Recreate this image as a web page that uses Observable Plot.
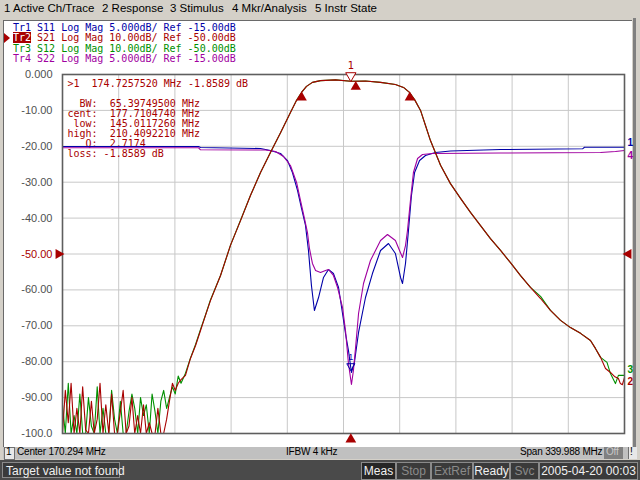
<!DOCTYPE html>
<html><head><meta charset="utf-8">
<script src="https://cdn.jsdelivr.net/npm/d3@7"></script>
<script src="https://cdn.jsdelivr.net/npm/@observablehq/plot@0.6"></script>
<style>
html,body{margin:0;padding:0}
body{width:640px;height:480px;overflow:hidden;position:relative;background:#d4d0c8;font-family:"Liberation Sans",Arial,sans-serif}
.a{position:absolute;white-space:pre}
#panel{position:absolute;left:3px;top:20px;width:628px;height:426px;background:#fff;border-top:1px solid #6a6a6a;border-left:1px solid #6a6a6a}
#rside{position:absolute;left:633px;top:18px;width:3px;height:429px;background:#808080}
#chart{position:absolute;left:0;top:17px}
#chart svg text{white-space:pre}
.menu{top:2px;font-size:11.5px;color:#000}
.leg{left:13px;font-family:"DejaVu Sans Mono",monospace;font-size:10px;line-height:10px}
#st1{position:absolute;left:3px;top:447px;width:629px;height:12px;background:#c0c0c0}
.s1{top:446px;font-size:10px;color:#000;letter-spacing:-0.2px}
#st2{position:absolute;left:0;top:460px;width:640px;height:20px;background:#4a4a4a}
.box{position:absolute;top:462px;height:16px;border:1px solid #8a8a8a;background:#3a3a3a;font-size:12px;line-height:16px;color:#f0f0f0;text-align:center;white-space:pre}
</style></head>
<body>
<div id="panel"></div>
<div id="rside"></div>
<div id="chart"></div>

<div class="a menu" style="left:4px">1 Active Ch/Trace</div>
<div class="a menu" style="left:102px">2 Response</div>
<div class="a menu" style="left:170px">3 Stimulus</div>
<div class="a menu" style="left:232px">4 Mkr/Analysis</div>
<div class="a menu" style="left:315px">5 Instr State</div>

<div id="legend"></div>

<div id="st1"></div>
<div class="a" style="left:4px;top:447px;width:9px;height:11px;border:1px solid #707070;background:#e8e8e8"></div>
<div class="a s1" style="left:6px">1</div>
<div class="a s1" style="left:17px">Center 170.294 MHz</div>
<div class="a s1" style="left:286px">IFBW 4 kHz</div>
<div class="a s1" style="left:520px">Span 339.988 MHz</div>
<div class="a" style="left:604px;top:447px;width:19px;height:12px;background:#808080"></div>
<div class="a s1" style="left:606px;color:#c8c8c8">Off</div>
<div class="a" style="left:628px;top:447px;width:8px;height:12px;background:#e8e8e8;border-left:1px solid #707070"></div>
<div class="a s1" style="left:630px">!</div>

<div id="st2"></div>
<div class="box" style="left:2px;text-align:left;padding-left:3px;box-sizing:border-box;width:118px">Target value not found</div>
<div class="box" style="left:361px;width:33px;background:#262626">Meas</div>
<div class="box" style="left:396px;width:33px;color:#8a8a8a">Stop</div>
<div class="box" style="left:431px;width:40px;color:#8a8a8a">ExtRef</div>
<div class="box" style="left:473px;width:35px">Ready</div>
<div class="box" style="left:510px;width:27px;color:#8a8a8a">Svc</div>
<div class="box" style="left:539px;width:97px">2005-04-20 00:03</div>

<script>
// ---------- data ----------
const centerMHz = 170.294;
const spanMHz = 339.988;

const yTickValues = [0, -10, -20, -30, -40, -50, -60, -70, -80, -90, -100];
const yTickLabels = ["0.000", "-10.00", "-20.00", "-30.00", "-40.00", "-50.00", "-60.00", "-70.00", "-80.00", "-90.00", "-100.0"];

const traceNames = ["Tr1", "Tr2", "Tr3", "Tr4"];
const traceParams = ["S11", "S21", "S12", "S22"];
const traceFormats = ["Log Mag", "Log Mag", "Log Mag", "Log Mag"];
const traceScales = [5, 10, 10, 5];          // dB/div
const traceRefs = [-15, -50, -50, -15];      // dB
const traceColors = ["#0000a8", "#a80000", "#009000", "#a000a0"];

// S21 (Tr2) frequency (MHz) and magnitude (dB)
const s21Freq = [0.3, 2.0, 3.8, 5.5, 7.3, 9.0, 10.8, 12.5, 14.3, 16.0, 17.8, 19.5, 21.3, 23.0, 24.8, 26.5, 28.3, 30.0, 31.8, 33.5, 35.3, 37.0, 38.8, 40.5, 42.3, 44.0, 45.8, 47.5, 49.3, 51.0, 52.8, 54.5, 56.3, 58.0, 59.8, 61.5, 63.3, 65.0, 66.8, 68.5, 70.3, 72.0,
  74.7, 77.7, 80.8, 83.8, 86.8, 89.8, 95.9, 101.9, 108.0, 114.0, 120.1, 126.1, 132.2, 138.2, 141.9, 144.9, 147.9, 151.5, 156.4, 165.5, 174.7, 183.6, 192.7, 201.7, 206.6, 210.2, 213.3, 216.9, 219.9, 222.9, 229.0, 235.0, 241.1, 247.1, 253.2, 259.2, 265.3, 271.3, 277.4, 283.4, 289.5, 295.5, 301.6, 307.6, 313.7, 319.7, 322.7, 325.8, 328.8, 331.8, 334.2, 336.6, 337.8, 339.0, 340.3];
const s21Db = [-100, -88, -97, -86, -100, -93, -100, -87, -99, -100, -91, -100, -96, -86, -100, -92, -100, -89, -100, -100, -94, -88, -100, -98, -90, -100, -95, -100, -92, -100, -97, -100, -100, -93, -100, -100, -96, -91, -86, -88, -86, -85,
  -83.8, -79.1, -75.5, -71.3, -67.1, -63.0, -56.0, -47.6, -40.7, -33.7, -27.3, -21.7, -16.2, -10.6, -7.2, -5.0, -3.3, -2.2, -1.7, -1.5, -1.86, -1.8, -2.2, -2.8, -3.6, -5.0, -7.0, -10.0, -14.2, -18.4, -25.3, -30.4, -34.5, -38.4, -42.1, -45.7, -49.0, -52.4, -56.0, -59.3, -62.4, -65.7, -68.5, -70.5, -72.1, -74.1, -76.3, -78.8, -81.9, -83.0, -84.1, -84.7, -86.1, -86.4, -84.4];

// S12 (Tr3)
const s12Freq = [0.3, 2.0, 3.8, 5.5, 7.3, 9.0, 10.8, 12.5, 14.3, 16.0, 17.8, 19.5, 21.3, 23.0, 24.8, 26.5, 28.3, 30.0, 31.8, 33.5, 35.3, 37.0, 38.8, 40.5, 42.3, 44.0, 45.8, 47.5, 49.3, 51.0, 52.8, 54.5, 56.3, 58.0, 59.8, 61.5, 63.3, 65.0, 66.8, 68.5, 70.3, 72.0,
  74.7, 77.7, 80.8, 83.8, 86.8, 89.8, 95.9, 101.9, 108.0, 114.0, 120.1, 126.1, 132.2, 138.2, 141.9, 144.9, 147.9, 151.5, 156.4, 165.5, 174.7, 183.6, 192.7, 201.7, 206.6, 210.2, 213.3, 216.9, 219.9, 222.9, 229.0, 235.0, 241.1, 247.1, 253.2, 259.2, 265.3, 271.3, 277.4, 283.4, 289.5, 295.5, 301.6, 307.6, 313.7, 319.7, 322.7, 325.8, 329.7, 331.8, 334.8, 336.6, 340.3];
const s12Db = [-92, -100, -86, -100, -95, -100, -89, -100, -100, -90, -98, -100, -87, -100, -93, -100, -100, -88, -96, -100, -91, -100, -100, -94, -89, -93, -100, -90, -95, -92, -100, -89, -94, -100, -91, -88, -93, -90, -87, -89, -84, -86,
  -83.2, -79.0, -75.2, -71.0, -67.0, -62.8, -56.0, -47.6, -40.6, -33.7, -27.3, -21.7, -16.2, -10.6, -7.2, -5.0, -3.3, -2.2, -1.7, -1.5, -1.86, -1.8, -2.2, -2.8, -3.6, -5.0, -7.0, -10.0, -14.2, -18.4, -25.3, -30.4, -34.5, -38.4, -42.1, -45.7, -49.0, -52.4, -56.0, -59.3, -61.8, -65.7, -68.5, -70.5, -72.1, -74.1, -76.3, -78.8, -80.2, -83.3, -86.1, -83.8, -83.8];

// S11 (Tr1)
const s11Freq = [0.3, 53.5, 82.6, 83.8, 120.1, 126.1, 132.2, 136.4, 139.4, 142.5, 144.9, 147.3, 149.1, 150.9, 152.7, 155.2, 158.2, 161.2, 164.2, 167.3, 169.7, 171.5, 173.3, 175.1, 176.9, 179.4, 183.6, 187.8, 192.7, 197.5, 201.7, 204.8, 206.0, 207.8, 209.6, 211.4, 213.3, 216.3, 219.9, 225.9, 235.0, 265.3, 314.9, 316.1, 340.3];
const s11Db = [-0.03, -0.03, -0.03, -0.17, -0.31, -0.58, -1.00, -1.98, -3.65, -6.16, -8.66, -11.03, -14.51, -19.39, -22.87, -21.06, -18.27, -17.16, -17.72, -19.67, -23.29, -26.07, -28.44, -31.50, -30.11, -25.93, -21.06, -17.72, -14.51, -13.54, -14.93, -18.27, -19.11, -16.32, -11.73, -6.85, -3.65, -1.98, -1.28, -0.86, -0.65, -0.45, -0.35, -0.13, -0.13];

// S22 (Tr4)
const s22Freq = [0.3, 82.6, 83.8, 123.1, 129.2, 134.0, 138.2, 141.9, 144.3, 146.7, 148.5, 149.7, 151.5, 153.4, 156.4, 159.4, 161.2, 164.2, 166.7, 169.7, 171.5, 173.3, 175.1, 176.3, 177.6, 179.4, 182.4, 186.6, 192.7, 196.9, 201.7, 204.2, 206.0, 207.8, 209.0, 210.8, 212.6, 215.1, 218.1, 224.1, 265.3, 325.8, 334.8, 340.3];
const s22Db = [-0.21, -0.21, -0.49, -0.52, -0.72, -1.42, -2.67, -5.04, -7.55, -10.06, -12.01, -14.23, -16.32, -17.30, -17.58, -17.30, -17.16, -17.99, -19.67, -22.45, -25.65, -30.25, -33.18, -31.23, -28.02, -23.29, -19.11, -15.91, -13.12, -12.28, -13.12, -14.51, -15.49, -13.82, -11.73, -7.55, -3.65, -1.70, -1.14, -1.00, -0.93, -0.86, -0.72, -0.58];

// marker / bandwidth search results
const markerFreq = 174.7257520;
const markerDb = -1.8589;
const bwLowFreq = 145.0117260;
const bwHighFreq = 210.4092210;
const bwCentFreq = 177.7104740;
const bwCentDb = -1.9;
const bwLevelDb = -4.8589;
const markerS11Db = -31.3;
const readoutLines = [
  ">1  174.7257520 MHz -1.8589 dB",
  "",
  "  BW:  65.39749500 MHz",
  "cent:  177.7104740 MHz",
  " low:  145.0117260 MHz",
  "high:  210.4092210 MHz",
  "   Q:  2.7174",
  "loss: -1.8589 dB"
];

// ---------- helpers ----------
const startF = centerMHz - spanMHz / 2;
const stopF = centerMHz + spanMHz / 2;
const activeScale = traceScales[1], activeRef = traceRefs[1];
// map a trace's dB value onto the active trace's graticule
const disp = (v, k) => activeRef + (v - traceRefs[k]) * activeScale / traceScales[k];
const series = (fs, vs, k) => fs.map((f, i) => ({f, y: disp(vs[i], k)}));

const s11 = series(s11Freq, s11Db, 0);
const s21 = series(s21Freq, s21Db, 1);
const s12 = series(s12Freq, s12Db, 2);
const s22 = series(s22Freq, s22Db, 3);
const xGrid = d3.range(1, 10).map(i => startF + i * spanMHz / 10);
const yGrid = yTickValues.slice(1, -1);

const red = traceColors[1];
const lineOpts = (c) => ({x: "f", y: "y", stroke: c, strokeWidth: 1.1, curve: "linear"});

const chart = Plot.plot({
  width: 632, height: 430,
  marginLeft: 62, marginRight: 8, marginTop: 57, marginBottom: 14,
  x: {domain: [startF, stopF], axis: null},
  y: {domain: [-100, 0], axis: null, clamp: true},
  style: {background: "transparent", fontFamily: "Liberation Sans, Arial, sans-serif", overflow: "visible"},
  marks: [
    Plot.ruleX(xGrid, {stroke: "#c8c8c8", strokeWidth: 1}),
    Plot.ruleY(yGrid, {stroke: "#c8c8c8", strokeWidth: 1}),
    Plot.text([readoutLines.join("\n")], {frameAnchor: "top-left", dx: 5, dy: 5, lineAnchor: "top", lineHeight: 1, textAnchor: "start",
      fill: red, fontFamily: "DejaVu Sans Mono, monospace", fontSize: 10}),
    Plot.line(s11, lineOpts(traceColors[0])),
    Plot.line(s22, lineOpts(traceColors[3])),
    Plot.line(s12, lineOpts(traceColors[2])),
    Plot.line(s21, lineOpts(traceColors[1])),
    Plot.frame({stroke: "#5e5e5e", strokeWidth: 1.6}),
    // y labels
    Plot.text(yTickValues.filter(v => v !== activeRef), {y: d => d, frameAnchor: "left", textAnchor: "end", dx: -10,
      text: d => yTickLabels[yTickValues.indexOf(d)], fill: "#505050", fontSize: 11}),
    Plot.text([activeRef], {y: d => d, frameAnchor: "left", textAnchor: "end", dx: -10,
      text: d => yTickLabels[yTickValues.indexOf(d)], fill: red, fontSize: 11}),
    // reference level arrows
    Plot.dot([activeRef], {x: startF, y: d => d, symbol: "triangle", rotate: 90, r: 3.8, fill: red, dx: -4}),
    Plot.dot([activeRef], {x: stopF, y: d => d, symbol: "triangle", rotate: -90, r: 3.8, fill: red, dx: 4}),
    // stimulus marker arrow under the axis
    Plot.dot([markerFreq], {x: d => d, y: -100, symbol: "triangle", r: 4, fill: red, dy: 6}),
    // bandwidth search markers on Tr2
    Plot.dot([[bwLowFreq, bwLevelDb], [bwCentFreq, bwCentDb], [bwHighFreq, bwLevelDb]],
      {x: d => d[0], y: d => d[1], symbol: "triangle", r: 3.8, fill: red, dy: 5.5}),
    // marker 1 on Tr2
    Plot.dot([[markerFreq, markerDb]], {x: d => d[0], y: d => d[1], symbol: "triangle", rotate: 180, r: 3.8, fill: "white", stroke: red, strokeWidth: 1, dy: -5.5}),
    Plot.text([[markerFreq, markerDb]], {x: d => d[0], y: d => d[1], text: () => "1", fill: red, fontSize: 10, dy: -15, fontFamily: "DejaVu Sans, sans-serif"}),
    // marker 1 on Tr1
    Plot.dot([[markerFreq, disp(markerS11Db, 0)]], {x: d => d[0], y: d => d[1], symbol: "triangle", rotate: 180, r: 3, fill: "none", stroke: traceColors[0], strokeWidth: 1, dy: -5}),
    Plot.text([[markerFreq, disp(markerS11Db, 0)]], {x: d => d[0], y: d => d[1], text: () => "1", fill: traceColors[0], fontSize: 9, dy: -14}),
    // trace end labels
    Plot.text([s11[s11.length - 1]], {x: "f", y: "y", text: () => "1", fill: traceColors[0], textAnchor: "start", dx: 3, dy: -4, fontSize: 10, fontWeight: "bold"}),
    Plot.text([s22[s22.length - 1]], {x: "f", y: "y", text: () => "4", fill: traceColors[3], textAnchor: "start", dx: 3, dy: 5, fontSize: 10, fontWeight: "bold"}),
    Plot.text([s12[s12.length - 1]], {x: "f", y: "y", text: () => "3", fill: traceColors[2], textAnchor: "start", dx: 3, dy: -6, fontSize: 10, fontWeight: "bold"}),
    Plot.text([s21[s21.length - 1]], {x: "f", y: "y", text: () => "2", fill: traceColors[1], textAnchor: "start", dx: 3, dy: 4, fontSize: 10, fontWeight: "bold"})
  ]
});
document.getElementById("chart").appendChild(chart);

// trace legend above the graticule
const legend = document.getElementById("legend");
const legTops = [23, 33, 44, 54];
traceNames.forEach((n, k) => {
  const fmt = traceScales[k] === 5 ? "5.000" : "10.00";
  const rest = ` ${traceParams[k]} ${traceFormats[k]} ${fmt}dB/ Ref ${traceRefs[k].toFixed(2)}dB`;
  const div = document.createElement("div");
  div.className = "a leg";
  div.style.top = legTops[k] + "px";
  div.style.color = traceColors[k];
  if (k === 1) {
    div.innerHTML = `<span style="background:${traceColors[k]};color:#fff">${n}</span>${rest}`;
    const tri = document.createElement("div");
    tri.className = "a";
    tri.style.cssText = `left:4px;top:${legTops[k]}px;width:0;height:0;border-top:5px solid transparent;border-bottom:5px solid transparent;border-left:6px solid ${traceColors[k]}`;
    legend.appendChild(tri);
  } else {
    div.textContent = n + rest;
  }
  legend.appendChild(div);
});
</script>
</body></html>
